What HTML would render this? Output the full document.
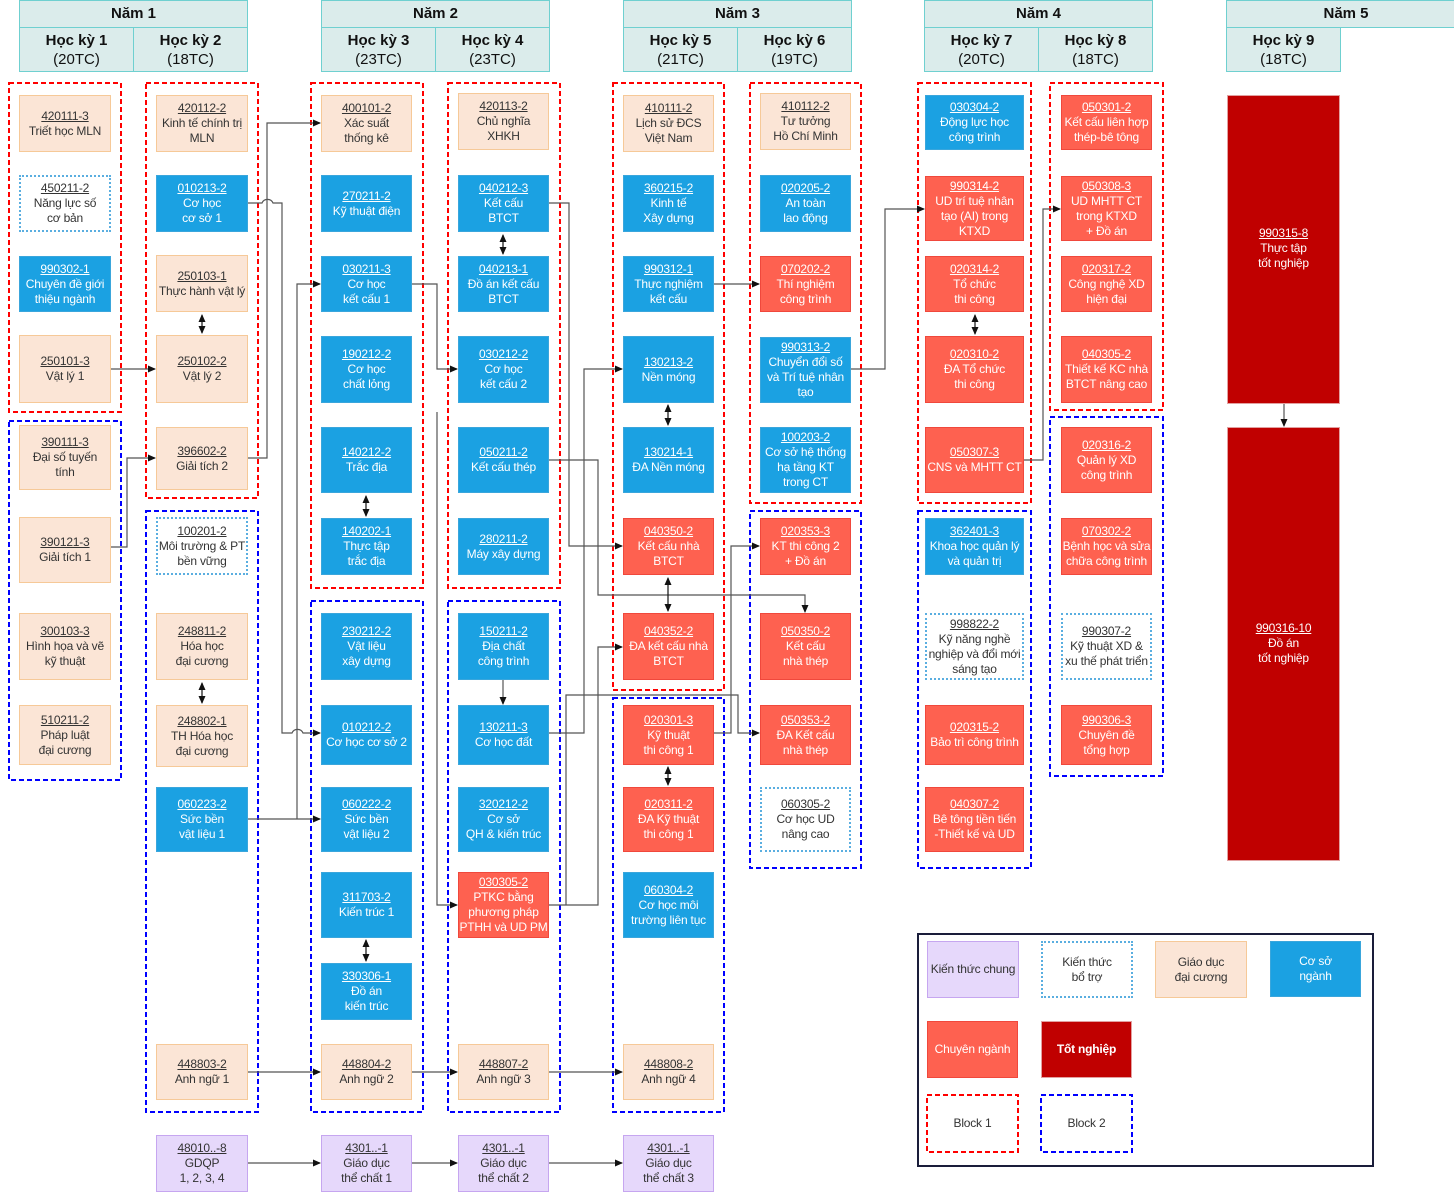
<!DOCTYPE html>
<html><head><meta charset="utf-8">
<style>
body{margin:0;width:1454px;height:1200px;position:relative;background:#fff;font-family:"Liberation Sans",sans-serif;overflow:hidden}
.h{position:absolute;box-sizing:border-box;background:#dbeceb;border:1px solid #6fd0d0;text-align:center;color:#111;font-size:15px}
.b{position:absolute;box-sizing:border-box;display:flex;align-items:center;justify-content:center;text-align:center;font-size:12px;line-height:15px;letter-spacing:-0.2px}
.b u{text-decoration:underline}
.p{background:#fbe5d6;border:1px solid #f6c998;color:#333}
.c{background:#1ba1e2;border:1px solid #3aa6dc;color:#fff}
.r{background:#fe6150;border:1px solid #f0483c;color:#fff}
.d{background:#fff;border:2px dotted #5aaee0;color:#333}
.v{background:#e6d8fb;border:1px solid #c6a6f0;color:#333}
.g{background:#c00000;border:1px solid #e2a0a0;outline:2px solid #c00000;outline-offset:-4px;color:#fff}
svg{position:absolute;left:0;top:0}
</style></head><body>

<div class="h" style="left:19px;top:0;width:229px;height:28px;line-height:26px;font-weight:bold">Năm 1</div>
<div class="h" style="left:19px;top:27px;width:115px;height:45px;padding-top:3px;line-height:19px"><b>Học kỳ 1</b><br>(20TC)</div>
<div class="h" style="left:133px;top:27px;width:115px;height:45px;padding-top:3px;line-height:19px"><b>Học kỳ 2</b><br>(18TC)</div>
<div class="h" style="left:321px;top:0;width:229px;height:28px;line-height:26px;font-weight:bold">Năm 2</div>
<div class="h" style="left:321px;top:27px;width:115px;height:45px;padding-top:3px;line-height:19px"><b>Học kỳ 3</b><br>(23TC)</div>
<div class="h" style="left:435px;top:27px;width:115px;height:45px;padding-top:3px;line-height:19px"><b>Học kỳ 4</b><br>(23TC)</div>
<div class="h" style="left:623px;top:0;width:229px;height:28px;line-height:26px;font-weight:bold">Năm 3</div>
<div class="h" style="left:623px;top:27px;width:115px;height:45px;padding-top:3px;line-height:19px"><b>Học kỳ 5</b><br>(21TC)</div>
<div class="h" style="left:737px;top:27px;width:115px;height:45px;padding-top:3px;line-height:19px"><b>Học kỳ 6</b><br>(19TC)</div>
<div class="h" style="left:924px;top:0;width:229px;height:28px;line-height:26px;font-weight:bold">Năm 4</div>
<div class="h" style="left:924px;top:27px;width:115px;height:45px;padding-top:3px;line-height:19px"><b>Học kỳ 7</b><br>(20TC)</div>
<div class="h" style="left:1038px;top:27px;width:115px;height:45px;padding-top:3px;line-height:19px"><b>Học kỳ 8</b><br>(18TC)</div>
<div class="h" style="left:1226px;top:0;width:240px;height:28px;line-height:26px;font-weight:bold">Năm 5</div>
<div class="h" style="left:1226px;top:27px;width:115px;height:45px;padding-top:3px;line-height:19px"><b>Học kỳ 9</b><br>(18TC)</div>

<svg width="1454" height="1200">
<defs><marker id="a" markerWidth="8" markerHeight="8" refX="7" refY="4" orient="auto-start-reverse" markerUnits="userSpaceOnUse"><path d="M0,0.5 L8,4 L0,7.5z" fill="#111"/></marker></defs>
<g fill="none" stroke-width="2" stroke-dasharray="5,3">
<rect x="9" y="83" width="112" height="329" stroke="#f00"/>
<rect x="9" y="421" width="112" height="359" stroke="#00f"/>
<rect x="146" y="83" width="112" height="415" stroke="#f00"/>
<rect x="146" y="511" width="112" height="601" stroke="#00f"/>
<rect x="311" y="83" width="112" height="505" stroke="#f00"/>
<rect x="311" y="601" width="112" height="511" stroke="#00f"/>
<rect x="448" y="83" width="112" height="505" stroke="#f00"/>
<rect x="448" y="601" width="112" height="511" stroke="#00f"/>
<rect x="613" y="83" width="111" height="607" stroke="#f00"/>
<rect x="613" y="698" width="111" height="414" stroke="#00f"/>
<rect x="750" y="83" width="111" height="420" stroke="#f00"/>
<rect x="750" y="511" width="111" height="357" stroke="#00f"/>
<rect x="918" y="83" width="113" height="420" stroke="#f00"/>
<rect x="918" y="511" width="113" height="357" stroke="#00f"/>
<rect x="1050" y="83" width="113" height="327" stroke="#f00"/>
<rect x="1050" y="417" width="113" height="359" stroke="#00f"/>
<rect x="927" y="1095" width="91" height="57" stroke="#f00"/>
<rect x="1041" y="1095" width="91" height="57" stroke="#00f"/>
</g>
<rect x="918" y="934" width="455" height="232" fill="none" stroke="#1a1d3a" stroke-width="2"/>
<g fill="none" stroke="#555" stroke-width="1.2" marker-end="url(#a)">
<path d="M111,369 H155"/>
<path d="M111,547 H127 V458 H155"/>
<path d="M248,458 H267 V123 H320"/>
<path d="M248,203 H262 a6,6 0 0 1 11,0 H282 V733 H292 a6,6 0 0 1 11,0 H320"/>
<path d="M248,819 H320"/>
<path d="M297,819 V284 H320"/>
<path d="M412,284 H437 V369 H457"/>
<path d="M437,412 V905 H457"/>
<path d="M549,203 H569 V546 H622"/>
<path d="M549,460 H598 V595 H805 V612"/>
<path d="M549,733 H584 V369 H622"/>
<path d="M549,905 H598 V647 H622"/>
<path d="M566,905 V695 H738 V733 H759"/>
<path d="M714,733 H731 V546 H759"/>
<path d="M714,284 H759"/>
<path d="M851,369 H885 V209 H924"/>
<path d="M1024,460 H1043 V209 H1060"/>
<path d="M248,1072 H320"/><path d="M412,1072 H457"/><path d="M549,1072 H622"/>
<path d="M248,1163 H320"/><path d="M412,1163 H457"/><path d="M549,1163 H622"/>
<path d="M1284,403 V426"/>
<path d="M503,680 V704"/>
</g>
<g fill="none" stroke="#111" stroke-width="1.2" marker-end="url(#a)" marker-start="url(#a)">
<path d="M202,315 V333"/><path d="M202,683 V703"/><path d="M366,496 V516"/><path d="M366,940 V961"/>
<path d="M503,235 V254"/><path d="M668,405 V425"/><path d="M668,578 V611"/><path d="M668,767 V785"/>
<path d="M975,315 V334"/>
</g>
</svg>

<div class="b p" style="left:19px;top:95px;width:92px;height:57px"><div><u>420111-3</u><br>Triết học MLN</div></div>
<div class="b d" style="left:19px;top:175px;width:92px;height:57px"><div><u>450211-2</u><br>Năng lực số<br>cơ bản</div></div>
<div class="b c" style="left:19px;top:256px;width:92px;height:56px"><div><u>990302-1</u><br>Chuyên đề giới<br>thiệu ngành</div></div>
<div class="b p" style="left:19px;top:335px;width:92px;height:68px"><div><u>250101-3</u><br>Vật lý 1</div></div>
<div class="b p" style="left:19px;top:425px;width:92px;height:65px"><div><u>390111-3</u><br>Đại số tuyến<br>tính</div></div>
<div class="b p" style="left:19px;top:517px;width:92px;height:66px"><div><u>390121-3</u><br>Giải tích 1</div></div>
<div class="b p" style="left:19px;top:613px;width:92px;height:67px"><div><u>300103-3</u><br>Hình họa và vẽ<br>kỹ thuật</div></div>
<div class="b p" style="left:19px;top:705px;width:92px;height:60px"><div><u>510211-2</u><br>Pháp luật<br>đại cương</div></div>
<div class="b p" style="left:156px;top:95px;width:92px;height:57px"><div><u>420112-2</u><br>Kinh tế chính trị<br>MLN</div></div>
<div class="b c" style="left:156px;top:175px;width:92px;height:57px"><div><u>010213-2</u><br>Cơ học<br>cơ sở 1</div></div>
<div class="b p" style="left:156px;top:255px;width:92px;height:57px"><div><u>250103-1</u><br>Thực hành vật lý</div></div>
<div class="b p" style="left:156px;top:335px;width:92px;height:68px"><div><u>250102-2</u><br>Vật lý 2</div></div>
<div class="b p" style="left:156px;top:427px;width:92px;height:63px"><div><u>396602-2</u><br>Giải tích 2</div></div>
<div class="b d" style="left:156px;top:517px;width:92px;height:58px"><div><u>100201-2</u><br>Môi trường &amp; PT<br>bền vững</div></div>
<div class="b p" style="left:156px;top:613px;width:92px;height:67px"><div><u>248811-2</u><br>Hóa học<br>đại cương</div></div>
<div class="b p" style="left:156px;top:705px;width:92px;height:62px"><div><u>248802-1</u><br>TH Hóa học<br>đại cương</div></div>
<div class="b c" style="left:156px;top:787px;width:92px;height:65px"><div><u>060223-2</u><br>Sức bền<br>vật liệu 1</div></div>
<div class="b p" style="left:156px;top:1044px;width:92px;height:56px"><div><u>448803-2</u><br>Anh ngữ 1</div></div>
<div class="b v" style="left:156px;top:1135px;width:92px;height:57px"><div><u>48010..-8</u><br>GDQP<br>1, 2, 3, 4</div></div>
<div class="b p" style="left:321px;top:95px;width:91px;height:57px"><div><u>400101-2</u><br>Xác suất<br>thống kê</div></div>
<div class="b c" style="left:321px;top:175px;width:91px;height:57px"><div><u>270211-2</u><br>Kỹ thuật điện</div></div>
<div class="b c" style="left:321px;top:256px;width:91px;height:56px"><div><u>030211-3</u><br>Cơ học<br>kết cấu 1</div></div>
<div class="b c" style="left:321px;top:336px;width:91px;height:67px"><div><u>190212-2</u><br>Cơ học<br>chất lỏng</div></div>
<div class="b c" style="left:321px;top:427px;width:91px;height:66px"><div><u>140212-2</u><br>Trắc địa</div></div>
<div class="b c" style="left:321px;top:518px;width:91px;height:57px"><div><u>140202-1</u><br>Thực tập<br>trắc địa</div></div>
<div class="b c" style="left:321px;top:613px;width:91px;height:67px"><div><u>230212-2</u><br>Vật liệu<br>xây dựng</div></div>
<div class="b c" style="left:321px;top:705px;width:91px;height:60px"><div><u>010212-2</u><br>Cơ học cơ sở 2</div></div>
<div class="b c" style="left:321px;top:787px;width:91px;height:65px"><div><u>060222-2</u><br>Sức bền<br>vật liệu 2</div></div>
<div class="b c" style="left:321px;top:872px;width:91px;height:66px"><div><u>311703-2</u><br>Kiến trúc 1</div></div>
<div class="b c" style="left:321px;top:963px;width:91px;height:57px"><div><u>330306-1</u><br>Đồ án<br>kiến trúc</div></div>
<div class="b p" style="left:321px;top:1044px;width:91px;height:56px"><div><u>448804-2</u><br>Anh ngữ 2</div></div>
<div class="b v" style="left:321px;top:1135px;width:91px;height:57px"><div><u>4301..-1</u><br>Giáo dục<br>thể chất 1</div></div>
<div class="b p" style="left:458px;top:93px;width:91px;height:57px"><div><u>420113-2</u><br>Chủ nghĩa<br>XHKH</div></div>
<div class="b c" style="left:458px;top:175px;width:91px;height:57px"><div><u>040212-3</u><br>Kết cấu<br>BTCT</div></div>
<div class="b c" style="left:458px;top:256px;width:91px;height:56px"><div><u>040213-1</u><br>Đồ án kết cấu<br>BTCT</div></div>
<div class="b c" style="left:458px;top:336px;width:91px;height:67px"><div><u>030212-2</u><br>Cơ học<br>kết cấu 2</div></div>
<div class="b c" style="left:458px;top:427px;width:91px;height:66px"><div><u>050211-2</u><br>Kết cấu thép</div></div>
<div class="b c" style="left:458px;top:518px;width:91px;height:57px"><div><u>280211-2</u><br>Máy xây dựng</div></div>
<div class="b c" style="left:458px;top:613px;width:91px;height:67px"><div><u>150211-2</u><br>Địa chất<br>công trình</div></div>
<div class="b c" style="left:458px;top:705px;width:91px;height:60px"><div><u>130211-3</u><br>Cơ học đất</div></div>
<div class="b c" style="left:458px;top:787px;width:91px;height:65px"><div><u>320212-2</u><br>Cơ sở<br>QH &amp; kiến trúc</div></div>
<div class="b r" style="left:458px;top:872px;width:91px;height:66px"><div><u>030305-2</u><br>PTKC bằng<br>phương pháp<br>PTHH và UD PM</div></div>
<div class="b p" style="left:458px;top:1044px;width:91px;height:56px"><div><u>448807-2</u><br>Anh ngữ 3</div></div>
<div class="b v" style="left:458px;top:1135px;width:91px;height:57px"><div><u>4301..-1</u><br>Giáo dục<br>thể chất 2</div></div>
<div class="b p" style="left:623px;top:95px;width:91px;height:57px"><div><u>410111-2</u><br>Lịch sử ĐCS<br>Việt Nam</div></div>
<div class="b c" style="left:623px;top:175px;width:91px;height:57px"><div><u>360215-2</u><br>Kinh tế<br>Xây dựng</div></div>
<div class="b c" style="left:623px;top:256px;width:91px;height:56px"><div><u>990312-1</u><br>Thực nghiệm<br>kết cấu</div></div>
<div class="b c" style="left:623px;top:336px;width:91px;height:67px"><div><u>130213-2</u><br>Nền móng</div></div>
<div class="b c" style="left:623px;top:427px;width:91px;height:66px"><div><u>130214-1</u><br>ĐA Nền móng</div></div>
<div class="b r" style="left:623px;top:518px;width:91px;height:57px"><div><u>040350-2</u><br>Kết cấu nhà<br>BTCT</div></div>
<div class="b r" style="left:623px;top:613px;width:91px;height:67px"><div><u>040352-2</u><br>ĐA kết cấu nhà<br>BTCT</div></div>
<div class="b r" style="left:623px;top:705px;width:91px;height:60px"><div><u>020301-3</u><br>Kỹ thuật<br>thi công 1</div></div>
<div class="b r" style="left:623px;top:787px;width:91px;height:65px"><div><u>020311-2</u><br>ĐA Kỹ thuật<br>thi công 1</div></div>
<div class="b c" style="left:623px;top:872px;width:91px;height:66px"><div><u>060304-2</u><br>Cơ học môi<br>trường liên tục</div></div>
<div class="b p" style="left:623px;top:1044px;width:91px;height:56px"><div><u>448808-2</u><br>Anh ngữ 4</div></div>
<div class="b v" style="left:623px;top:1135px;width:91px;height:57px"><div><u>4301..-1</u><br>Giáo dục<br>thể chất 3</div></div>
<div class="b p" style="left:760px;top:93px;width:91px;height:57px"><div><u>410112-2</u><br>Tư tưởng<br>Hồ Chí Minh</div></div>
<div class="b c" style="left:760px;top:175px;width:91px;height:57px"><div><u>020205-2</u><br>An toàn<br>lao động</div></div>
<div class="b r" style="left:760px;top:256px;width:91px;height:56px"><div><u>070202-2</u><br>Thí nghiệm<br>công trình</div></div>
<div class="b c" style="left:760px;top:337px;width:91px;height:66px"><div><u>990313-2</u><br>Chuyển đổi số<br>và Trí tuệ nhân<br>tạo</div></div>
<div class="b c" style="left:760px;top:427px;width:91px;height:66px"><div><u>100203-2</u><br>Cơ sở hệ thống<br>hạ tầng KT<br>trong CT</div></div>
<div class="b r" style="left:760px;top:518px;width:91px;height:57px"><div><u>020353-3</u><br>KT thi công 2<br>+ Đồ án</div></div>
<div class="b r" style="left:760px;top:613px;width:91px;height:67px"><div><u>050350-2</u><br>Kết cấu<br>nhà thép</div></div>
<div class="b r" style="left:760px;top:705px;width:91px;height:60px"><div><u>050353-2</u><br>ĐA Kết cấu<br>nhà thép</div></div>
<div class="b d" style="left:760px;top:787px;width:91px;height:65px"><div><u>060305-2</u><br>Cơ học UD<br>nâng cao</div></div>
<div class="b c" style="left:925px;top:95px;width:99px;height:55px"><div><u>030304-2</u><br>Động lực học<br>công trình</div></div>
<div class="b r" style="left:925px;top:176px;width:99px;height:65px"><div><u>990314-2</u><br>UD trí tuệ nhân<br>tạo (AI) trong<br>KTXD</div></div>
<div class="b r" style="left:925px;top:256px;width:99px;height:56px"><div><u>020314-2</u><br>Tổ chức<br>thi công</div></div>
<div class="b r" style="left:925px;top:336px;width:99px;height:67px"><div><u>020310-2</u><br>ĐA Tổ chức<br>thi công</div></div>
<div class="b r" style="left:925px;top:427px;width:99px;height:66px"><div><u>050307-3</u><br>CNS và MHTT CT</div></div>
<div class="b c" style="left:925px;top:518px;width:99px;height:57px"><div><u>362401-3</u><br>Khoa học quản lý<br>và quản trị</div></div>
<div class="b d" style="left:925px;top:613px;width:99px;height:67px"><div><u>998822-2</u><br>Kỹ năng nghề<br>nghiệp và đổi mới<br>sáng tạo</div></div>
<div class="b r" style="left:925px;top:705px;width:99px;height:60px"><div><u>020315-2</u><br>Bảo trì công trình</div></div>
<div class="b r" style="left:925px;top:787px;width:99px;height:65px"><div><u>040307-2</u><br>Bê tông tiền tiến<br>-Thiết kế và UD</div></div>
<div class="b r" style="left:1061px;top:95px;width:91px;height:55px"><div><u>050301-2</u><br>Kết cấu liên hợp<br>thép-bê tông</div></div>
<div class="b r" style="left:1061px;top:176px;width:91px;height:65px"><div><u>050308-3</u><br>UD MHTT CT<br>trong KTXD<br>+ Đồ án</div></div>
<div class="b r" style="left:1061px;top:256px;width:91px;height:56px"><div><u>020317-2</u><br>Công nghệ XD<br>hiện đại</div></div>
<div class="b r" style="left:1061px;top:336px;width:91px;height:67px"><div><u>040305-2</u><br>Thiết kế KC nhà<br>BTCT nâng cao</div></div>
<div class="b r" style="left:1061px;top:427px;width:91px;height:66px"><div><u>020316-2</u><br>Quản lý XD<br>công trình</div></div>
<div class="b r" style="left:1061px;top:518px;width:91px;height:57px"><div><u>070302-2</u><br>Bệnh học và sửa<br>chữa công trình</div></div>
<div class="b d" style="left:1061px;top:613px;width:91px;height:67px"><div><u>990307-2</u><br>Kỹ thuật XD &amp;<br>xu thế phát triển</div></div>
<div class="b r" style="left:1061px;top:705px;width:91px;height:60px"><div><u>990306-3</u><br>Chuyên đề<br>tổng hợp</div></div>
<div class="b g" style="left:1227px;top:95px;width:113px;height:309px;align-items:flex-start;padding-top:130px"><div><u>990315-8</u><br>Thực tập<br>tốt nghiệp</div></div>
<div class="b g" style="left:1227px;top:427px;width:113px;height:434px;align-items:flex-start;padding-top:193px"><div><u>990316-10</u><br>Đồ án<br>tốt nghiệp</div></div>
<div class="b v" style="left:927px;top:941px;width:92px;height:57px">Kiến thức chung</div>
<div class="b d" style="left:1041px;top:941px;width:92px;height:57px"><div>Kiến thức<br>bổ trợ</div></div>
<div class="b p" style="left:1155px;top:941px;width:92px;height:57px"><div>Giáo dục<br>đại cương</div></div>
<div class="b c" style="left:1270px;top:941px;width:91px;height:56px"><div>Cơ sở<br>ngành</div></div>
<div class="b r" style="left:927px;top:1021px;width:91px;height:57px">Chuyên ngành</div>
<div class="b g" style="left:1041px;top:1021px;width:91px;height:57px;font-weight:bold">Tốt nghiệp</div>
<div class="b" style="left:927px;top:1095px;width:91px;height:57px;color:#333">Block 1</div>
<div class="b" style="left:1041px;top:1095px;width:91px;height:57px;color:#333">Block 2</div>
</body></html>
